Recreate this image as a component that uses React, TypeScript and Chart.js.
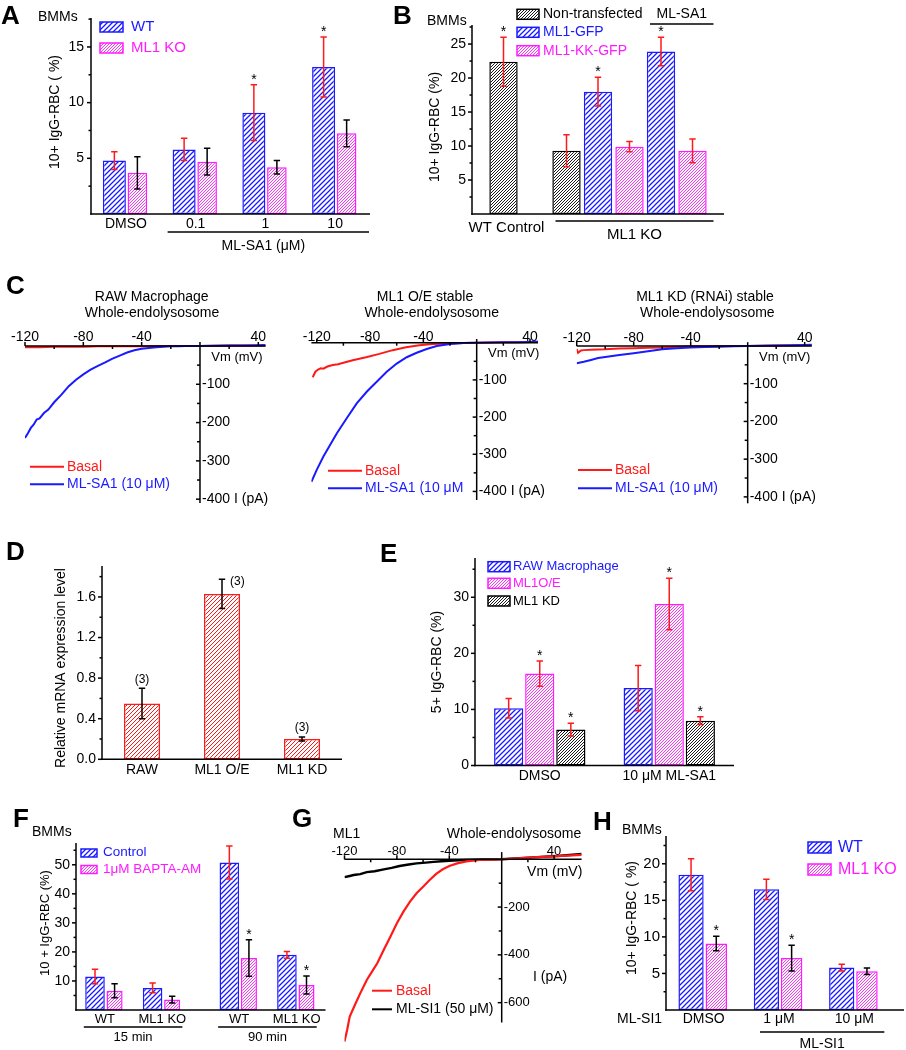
import React, { useEffect, useRef } from 'react';
import { Chart, registerables } from 'chart.js';

Chart.register(...registerables);

const PAGE_W = 906;
const PAGE_H = 1050;
const FONT = '"Liberation Sans", Arial, Helvetica, sans-serif';
const BLUE = '#1a1aff';
const MAGENTA = '#ff1aff';
const RED = '#ff1a1a';
const INK = '#000000';

/* ======================= DATA ======================= */
// Panel A
const aCategories = ['DMSO', '0.1', '1', '10'];
const aWT = [4.8, 5.8, 9.1, 13.2];
const aWTErr = [0.8, 1.0, 2.5, 2.7];
const aKO = [3.7, 4.7, 4.2, 7.25];
const aKOErr = [1.45, 1.2, 0.6, 1.2];
const aWTStar = [false, false, true, true];
const aYTicks = [5, 10, 15];
const aYMinor = [2.5, 7.5, 12.5, 17.5];

// Panel B
const bCategories = ['', 'WT Control', '', 'Non-transfected', 'ML1-GFP', 'ML1-KK-GFP', 'ML1-GFP + ML-SA1', 'ML1-KK-GFP + ML-SA1', ''];
const bSeries = ['', 'Non-transfected', '', 'Non-transfected', 'ML1-GFP', 'ML1-KK-GFP', 'ML1-GFP', 'ML1-KK-GFP', ''];
const bValues = [null, 22.4, null, 9.3, 18.0, 9.9, 23.9, 9.3, null];
const bErr = [0, 3.6, 0, 2.35, 2.1, 0.75, 2.1, 1.75, 0];
const bStar = [false, true, false, false, true, false, true, false, false];
const bYTicks = [5, 10, 15, 20, 25];
const bYMinor = [2.5, 7.5, 12.5, 17.5, 22.5, 27.5];

// Panel C (I-V curves)
const cXTicks = [-120, -80, -40, 40];
const cXMinor = [-100, -60, -20, 20];
const cYTicks = [-100, -200, -300, -400];
const cYMinor = [-50, -150, -250, -350];
const c1BasalV = [-120, -110, -100, -90, -80, -70, -60, -50, -40, -30, -20, -10, 0, 10, 20, 30, 40, 45];
const c1BasalI = [-3, -3, -2, -2, -2, -1, -1, -1, -1, 0, 0, 0, 0, 0.5, 1, 1, 1.5, 1.5];
const c1SA1V = [-120, -118, -116, -114, -112, -110, -107, -104, -100, -95, -90, -85, -80, -75, -70, -65, -60, -55, -50, -45, -40, -35, -30, -25, -20, -15, -10, 0, 10, 20, 30, 40, 45];
const c1SA1I = [-240, -228, -214, -205, -192, -189, -175, -166, -147, -127, -105, -88, -74, -62, -52, -43, -33, -25, -17, -11, -7, -5, -3, -2, -1, -0.5, 0, 0, 0.5, 1, 1.5, 2, 2.5];
const c2BasalV = [-123, -121, -119, -117, -115, -112, -108, -104, -100, -93, -83, -73, -63, -53, -43, -33, -20, -10, 0, 10, 20, 30, 40, 46];
const c2BasalI = [-93, -78, -72, -69, -70, -64, -60, -58, -54, -47, -39, -30, -20, -12, -7, -3.5, -1.8, -0.5, 0, 0.5, 1, 1.5, 2, 2.7];
const c2SA1V = [-124, -120, -115, -110, -105, -97.5, -90, -82.5, -75, -67.5, -60, -52.5, -45, -37.5, -30, -20, -10, 0, 10, 20, 30, 40, 46];
const c2SA1I = [-374, -342, -306, -275, -244, -203, -163, -132, -105, -78, -56, -39, -27, -17, -9, -3.5, -1, 0, 0.5, 1, 1.5, 2, 2.7];
const c3BasalV = [-120, -119, -117, -115, -110, -100, -90, -80, -70, -60, -50, -40, -30, -20, -10, 0, 10, 20, 30, 40, 45];
const c3BasalI = [-8, -18, -12, -11, -10, -9, -7, -6, -5, -4, -2, -1, -0.5, 0, 0, 0, 0.5, 1, 1.5, 2, 2.5];
const c3SA1V = [-120, -115, -110, -105, -100, -90, -80, -70, -60, -50, -40, -30, -20, -10, 0, 10, 20, 30, 40, 45];
const c3SA1I = [-46, -42, -37, -32, -29, -24, -19, -14, -9, -6, -4, -3, -2, -1, 0, 0.5, 1, 2, 2.5, 3];

// Panel D
const dCategories = ['RAW', 'ML1 O/E', 'ML1 KD'];
const dValues = [0.55, 1.63, 0.2];
const dErr = [0.15, 0.145, 0.02];
const dN = ['(3)', '(3)', '(3)'];
const dYTicks = [0, 0.4, 0.8, 1.2, 1.6];
const dYMinor = [0.2, 0.6, 1.0, 1.4, 1.8];

// Panel E
const eCategories = ['DMSO', '10 \u03bcM ML-SA1'];
const eRaw = [10.2, 13.8];
const eRawErr = [1.75, 4.05];
const eOE = [16.4, 28.8];
const eOEErr = [2.25, 4.6];
const eKD = [6.4, 8.0];
const eKDErr = [1.15, 0.7];
const eOEStar = [true, true];
const eKDStar = [true, true];
const eYTicks = [0, 10, 20, 30];
const eYMinor = [5, 15, 25, 35];

// Panel F
const fGroups = ['WT', 'ML1 KO', 'WT', 'ML1 KO'];
const fPositions = [0, 3, 7, 10];
const fControl = [11.5, 7.6, 50.8, 19.0];
const fControlErr = [2.5, 1.7, 5.7, 1.15];
const fBapta = [6.6, 3.6, 17.9, 8.6];
const fBaptaErr = [2.4, 1.15, 6.3, 3.1];
const fBaptaStar = [false, false, true, true];
const fTimes = ['15 min', '90 min'];
const fTimeGroupFirst = [0, 2];
const fTimeGroupLast = [1, 3];
const fYTicks = [10, 20, 30, 40, 50];
const fYMinor = [5, 15, 25, 35, 45, 55];

// Panel G
const gXTicks = [-120, -80, -40, 40];
const gXMinor = [-100, -60, -20, 20];
const gYTicks = [-200, -400, -600];
const gYMinor = [-100, -300, -500];
const gBasalV = [-120, -118, -116, -112, -108, -103, -99, -95, -90, -85, -80, -75, -70, -65, -60, -55, -50, -45, -40, -34, -27, -17, 0, 24, 61];
const gBasalI = [-763, -714, -658, -609, -561, -505, -470, -435, -379, -324, -268, -219, -177, -142, -115, -87, -61, -42, -28, -17, -8.5, -3, 0, 8, 18];
const gSI1V = [-120, -116, -113, -108, -103, -97, -90, -84, -78, -71, -65, -58, -52, -46, -40, -33, -27, -14, 0, 24, 45, 61];
const gSI1I = [-75, -70, -66, -62, -54, -50, -42, -36, -28, -22, -17, -14, -11, -8, -6, -4, -3, -1, 0, 8, 15, 22];

// Panel H
const hCategories = ['DMSO', '1 \u03bcM', '10 \u03bcM'];
const hWT = [18.5, 16.5, 5.8];
const hWTErr = [2.2, 1.4, 0.45];
const hKO = [9.1, 7.1, 5.3];
const hKOErr = [1.0, 1.75, 0.45];
const hKOStar = [true, true, false];
const hYTicks = [5, 10, 15, 20];
const hYMinor = [2.5, 7.5, 12.5, 17.5, 22.5];

/* ======================= HELPERS ======================= */
const HATCH_SPEC: Record<string, [string, number, number]> = {
  blue: [BLUE, 5, 1.3],
  magenta: [MAGENTA, 3, 0.9],
  black: ['#1a1a1a', 3, 1.0],
  red: [RED, 4, 1.0],
};
const EDGE: Record<string, string> = { blue: BLUE, magenta: MAGENTA, black: INK, red: RED };
const SERIES_KIND: Record<string, string> = { 'Non-transfected': 'black', 'ML1-GFP': 'blue', 'ML1-KK-GFP': 'magenta', '': 'black' };
const hatchCache: Record<string, any> = {};
function hatch(kind: string): any {
  if (!hatchCache[kind]) {
    const [color, s, lw] = HATCH_SPEC[kind];
    const cv = document.createElement('canvas');
    cv.width = s;
    cv.height = s;
    const g = cv.getContext('2d') as CanvasRenderingContext2D;
    g.fillStyle = '#ffffff';
    g.fillRect(0, 0, s, s);
    g.strokeStyle = color;
    g.lineWidth = lw;
    g.beginPath();
    g.moveTo(0, s);
    g.lineTo(s, 0);
    g.moveTo(-1, 1);
    g.lineTo(1, -1);
    g.moveTo(s - 1, s + 1);
    g.lineTo(s + 1, s - 1);
    g.stroke();
    hatchCache[kind] = g.createPattern(cv, 'repeat');
  }
  return hatchCache[kind];
}

function txt(ctx: CanvasRenderingContext2D, s: string, x: number, y: number, o: any = {}) {
  ctx.save();
  ctx.font = `${o.bold ? 'bold ' : ''}${o.size ?? 14}px ${FONT}`;
  ctx.fillStyle = o.color ?? INK;
  ctx.textAlign = o.align ?? 'center';
  ctx.textBaseline = o.base ?? 'middle';
  ctx.translate(x, y);
  if (o.rot) ctx.rotate(o.rot);
  ctx.fillText(s, 0, 0);
  ctx.restore();
}

function seg(ctx: CanvasRenderingContext2D, x1: number, y1: number, x2: number, y2: number, color = INK, lw = 1.5) {
  ctx.save();
  ctx.strokeStyle = color;
  ctx.lineWidth = lw;
  ctx.beginPath();
  ctx.moveTo(x1, y1);
  ctx.lineTo(x2, y2);
  ctx.stroke();
  ctx.restore();
}

function letter(ctx: CanvasRenderingContext2D, s: string, x: number, y: number) {
  txt(ctx, s, x, y, { size: 26, bold: true, align: 'left' });
}

function swatch(ctx: CanvasRenderingContext2D, x: number, y: number, w: number, h: number, kind: string) {
  ctx.save();
  ctx.fillStyle = hatch(kind);
  ctx.fillRect(x, y, w, h);
  ctx.strokeStyle = EDGE[kind];
  ctx.lineWidth = 1.5;
  ctx.strokeRect(x, y, w, h);
  ctx.restore();
}

function errorBars(ctx: CanvasRenderingContext2D, c: any, ds: number, values: any[], errs: number[], color: string, cap = 3.2) {
  const meta = c.getDatasetMeta(ds);
  const ys = c.scales.y;
  values.forEach((v, i) => {
    if (v == null || !errs[i]) return;
    const el = meta.data[i];
    const x = el.x;
    const yt = ys.getPixelForValue(v + errs[i]);
    const yb = ys.getPixelForValue(v - errs[i]);
    ctx.save();
    ctx.strokeStyle = color;
    ctx.lineWidth = 1.5;
    ctx.beginPath();
    ctx.moveTo(x, yt);
    ctx.lineTo(x, yb);
    ctx.moveTo(x - cap, yt);
    ctx.lineTo(x + cap, yt);
    ctx.moveTo(x - cap, yb);
    ctx.lineTo(x + cap, yb);
    ctx.stroke();
    ctx.restore();
  });
}

function stars(ctx: CanvasRenderingContext2D, c: any, ds: number, values: any[], errs: number[], flags: boolean[]) {
  const meta = c.getDatasetMeta(ds);
  const ys = c.scales.y;
  flags.forEach((f, i) => {
    if (!f || values[i] == null) return;
    const el = meta.data[i];
    const top = ys.getPixelForValue(values[i] + errs[i]);
    txt(ctx, '*', el.x, top - 1, { size: 14, base: 'alphabetic' });
  });
}

function yAxisLeft(ctx: CanvasRenderingContext2D, c: any, major: number[], minor: number[], o: any = {}) {
  const a = c.chartArea;
  const ys = c.scales.y;
  const size = o.size ?? 14;
  const gap = o.gap ?? 6;
  const fmt = o.fmt ?? ((v: number) => String(v));
  seg(ctx, a.left, a.top, a.left, a.bottom + 0.75);
  major.forEach((v) => {
    const p = ys.getPixelForValue(v);
    seg(ctx, a.left - 4, p, a.left, p);
    txt(ctx, fmt(v), a.left - gap, p, { size, align: 'right' });
  });
  minor.forEach((v) => {
    const p = ys.getPixelForValue(v);
    seg(ctx, a.left - 2.5, p, a.left, p);
  });
}

function xAxisLine(ctx: CanvasRenderingContext2D, c: any, extra = 0) {
  const a = c.chartArea;
  seg(ctx, a.left - 0.75, a.bottom, a.right + extra, a.bottom);
}

function ivAxes(ctx: CanvasRenderingContext2D, c: any, o: any) {
  const a = c.chartArea;
  const xs = c.scales.x;
  const ys = c.scales.y;
  const y0 = ys.getPixelForValue(0);
  const x0 = xs.getPixelForValue(0);
  seg(ctx, a.left, y0, a.right, y0);
  const yEnd = o.yAxisMin != null ? ys.getPixelForValue(o.yAxisMin) : a.bottom;
  seg(ctx, x0, a.top, x0, yEnd);
  o.xMajor.forEach((v: number) => {
    const p = xs.getPixelForValue(v);
    seg(ctx, p, y0 - 4, p, y0);
    txt(ctx, String(v), p, y0 - o.xLabelDy, { size: o.size });
  });
  o.xMinor.forEach((v: number) => {
    const p = xs.getPixelForValue(v);
    seg(ctx, p, y0, p, y0 + 3);
  });
  o.yMajor.forEach((v: number) => {
    const p = ys.getPixelForValue(v);
    seg(ctx, x0 - 4, p, x0, p);
    txt(ctx, String(v), x0 + 2, p, { size: o.size, align: 'left' });
  });
  o.yMinor.forEach((v: number) => {
    const p = ys.getPixelForValue(v);
    seg(ctx, x0 - 3, p, x0, p);
  });
  return { x0, y0 };
}

type Area = { l: number; t: number; r: number; b: number };

function baseOptions(area: Area, scales: any) {
  return {
    responsive: false,
    maintainAspectRatio: false,
    animation: false,
    devicePixelRatio: 1,
    events: [],
    layout: { padding: { left: area.l, top: area.t, right: PAGE_W - area.r, bottom: PAGE_H - area.b } },
    plugins: { legend: { display: false }, tooltip: { enabled: false }, title: { display: false } },
    scales,
  };
}

function decor(draw: (c: any, ctx: CanvasRenderingContext2D) => void) {
  return {
    id: 'decor',
    afterDraw(c: any) {
      const ctx = c.ctx;
      ctx.save();
      draw(c, ctx);
      ctx.restore();
    },
  };
}

function barSet(label: string, data: any[], kind: string, barPct: number, catPct: number) {
  return {
    label,
    data,
    backgroundColor: hatch(kind),
    borderColor: EDGE[kind],
    borderWidth: 1.5,
    borderSkipped: false,
    barPercentage: barPct,
    categoryPercentage: catPct,
  };
}

function trace(label: string, v: number[], i: number[], color: string, width: number) {
  return {
    label,
    data: v.map((x, k) => ({ x, y: i[k] })),
    borderColor: color,
    backgroundColor: color,
    borderWidth: width,
    pointRadius: 0,
    tension: 0,
    fill: false,
  };
}

/* ======================= PANELS ======================= */
function configA() {
  return {
    type: 'bar',
    data: {
      labels: aCategories,
      datasets: [barSet('WT', aWT, 'blue', 1.0, 0.66), barSet('ML1 KO', aKO, 'magenta', 0.85, 0.66)],
    },
    options: baseOptions({ l: 91, t: 18, r: 370, b: 214 }, {
      x: { type: 'category', display: false },
      y: { type: 'linear', display: false, min: 0, max: 17.6 },
    }),
    plugins: [decor((c, ctx) => {
      const a = c.chartArea;
      const xs = c.scales.x;
      letter(ctx, 'A', 1, 17);
      txt(ctx, 'BMMs', 38, 17, { align: 'left', size: 14 });
      txt(ctx, '10+ IgG-RBC ( %)', 55, 112, { rot: -Math.PI / 2, size: 14 });
      errorBars(ctx, c, 0, aWT, aWTErr, RED);
      errorBars(ctx, c, 1, aKO, aKOErr, INK);
      stars(ctx, c, 0, aWT, aWTErr, aWTStar);
      yAxisLeft(ctx, c, aYTicks, aYMinor, { size: 14, gap: 7 });
      xAxisLine(ctx, c);
      aCategories.forEach((l, i) => txt(ctx, l, xs.getPixelForValue(i), a.bottom + 10, { size: 14 }));
      const g0 = xs.getPixelForValue(1) - 28;
      seg(ctx, g0, a.bottom + 18, a.right - 1, a.bottom + 18);
      txt(ctx, 'ML-SA1 (\u03bcM)', xs.getPixelForValue(2) - 2, a.bottom + 32, { size: 14 });
      swatch(ctx, 100, 22, 23, 10, 'blue');
      txt(ctx, 'WT', 131, 27, { align: 'left', color: BLUE, size: 15 });
      swatch(ctx, 100, 43, 23, 10, 'magenta');
      txt(ctx, 'ML1 KO', 131, 48, { align: 'left', color: MAGENTA, size: 15 });
    })],
  };
}

function configB() {
  const kinds = bSeries.map((s) => SERIES_KIND[s]);
  return {
    type: 'bar',
    data: {
      labels: bCategories,
      datasets: [{
        label: 'B',
        data: bValues,
        backgroundColor: kinds.map((k) => hatch(k)),
        borderColor: kinds.map((k) => EDGE[k]),
        borderWidth: 1.5,
        borderSkipped: false,
        barPercentage: 0.9,
        categoryPercentage: 1,
      }],
    },
    options: baseOptions({ l: 472, t: 25, r: 724, b: 214 }, {
      x: { type: 'category', display: false, offset: false },
      y: { type: 'linear', display: false, min: 0, max: 27.8 },
    }),
    plugins: [decor((c, ctx) => {
      const a = c.chartArea;
      const xs = c.scales.x;
      letter(ctx, 'B', 393, 17);
      txt(ctx, 'BMMs', 427, 21, { align: 'left', size: 14 });
      txt(ctx, '10+ IgG-RBC (%)', 435, 127, { rot: -Math.PI / 2, size: 14 });
      errorBars(ctx, c, 0, bValues, bErr, RED);
      stars(ctx, c, 0, bValues, bErr, bStar);
      yAxisLeft(ctx, c, bYTicks, bYMinor, { size: 14, gap: 6 });
      xAxisLine(ctx, c);
      txt(ctx, 'WT Control', xs.getPixelForValue(1) + 3, a.bottom + 14, { size: 15 });
      const k0 = xs.getPixelForValue(3) - 11;
      const k1 = xs.getPixelForValue(7) + 21;
      seg(ctx, k0, a.bottom + 7, k1, a.bottom + 7);
      txt(ctx, 'ML1 KO', (k0 + k1) / 2, a.bottom + 21, { size: 15 });
      const s0 = xs.getPixelForValue(6) - 11;
      seg(ctx, s0, 24, k1, 24);
      txt(ctx, 'ML-SA1', (s0 + k1) / 2, 14, { size: 14 });
      const legend: [string, string, string][] = [
        ['Non-transfected', 'black', INK],
        ['ML1-GFP', 'blue', BLUE],
        ['ML1-KK-GFP', 'magenta', MAGENTA],
      ];
      const rows = [14.3, 32.3, 50.7];
      legend.forEach(([label, kind, color], i) => {
        swatch(ctx, 517, rows[i] - 5, 22, 10, kind);
        txt(ctx, label, 543, rows[i], { align: 'left', color, size: 14 });
      });
    })],
  };
}

function ivConfig(spec: any) {
  return {
    type: 'line',
    data: { datasets: spec.traces },
    options: baseOptions(spec.area, {
      x: { type: 'linear', display: false, min: spec.xMin, max: spec.xMax },
      y: { type: 'linear', display: false, min: spec.yMin, max: spec.yMax },
    }),
    plugins: [decor(spec.draw)],
  };
}

function drawC(c: any, ctx: CanvasRenderingContext2D, o: any) {
  const ys = c.scales.y;
  txt(ctx, o.title[0], o.titleX[0], 296.7, { size: 14 });
  txt(ctx, o.title[1], o.titleX[1], 313.3, { size: 14 });
  const { x0, y0 } = ivAxes(ctx, c, { xMajor: cXTicks, xMinor: cXMinor, yMajor: cYTicks, yMinor: cYMinor, size: 14, xLabelDy: o.xLabelDy });
  txt(ctx, 'Vm (mV)', x0 + 37, y0 + 11, { size: 13 });
  txt(ctx, 'I (pA)', x0 + 34, ys.getPixelForValue(-400), { size: 14, align: 'left' });
  seg(ctx, o.legX, o.legY[0], o.legX + 34, o.legY[0], RED, 2);
  txt(ctx, 'Basal', o.legX + 37, o.legY[0], { size: 14, align: 'left', color: RED });
  seg(ctx, o.legX, o.legY[1], o.legX + 34, o.legY[1], BLUE, 2);
  txt(ctx, o.sa1Label, o.legX + 37, o.legY[1], { size: 14, align: 'left', color: BLUE });
}

function configC1() {
  return ivConfig({
    area: { l: 25, t: 342, r: 265.6, b: 503 },
    xMin: -120, xMax: 45, yMin: -410, yMax: 10.4,
    traces: [trace('ML-SA1 (10 \u03bcM)', c1SA1V, c1SA1I, BLUE, 2), trace('Basal', c1BasalV, c1BasalI, RED, 2)],
    draw: (c: any, ctx: CanvasRenderingContext2D) => {
      letter(ctx, 'C', 6, 287);
      drawC(c, ctx, { title: ['RAW Macrophage', 'Whole-endolysosome'], titleX: [151.7, 152], xLabelDy: 9, legX: 30, legY: [466.7, 484.3], sa1Label: 'ML-SA1 (10 \u03bcM)' });
    },
  });
}

function configC2() {
  return ivConfig({
    area: { l: 311.4, t: 339, r: 538, b: 500 },
    xMin: -124, xMax: 46, yMin: -423, yMax: 10,
    traces: [trace('ML-SA1 (10 \u03bcM)', c2SA1V, c2SA1I, BLUE, 2), trace('Basal', c2BasalV, c2BasalI, RED, 2)],
    draw: (c: any, ctx: CanvasRenderingContext2D) => {
      drawC(c, ctx, { title: ['ML1 O/E stable', 'Whole-endolysosome'], titleX: [425, 431.7], xLabelDy: 6, legX: 328, legY: [470.7, 488.3], sa1Label: 'ML-SA1 (10 \u03bcM' });
    },
  });
}

function configC3() {
  return ivConfig({
    area: { l: 576.7, t: 342.2, r: 811.8, b: 503.3 },
    xMin: -120, xMax: 45, yMin: -417, yMax: 10,
    traces: [trace('ML-SA1 (10 \u03bcM)', c3SA1V, c3SA1I, BLUE, 2), trace('Basal', c3BasalV, c3BasalI, RED, 2)],
    draw: (c: any, ctx: CanvasRenderingContext2D) => {
      drawC(c, ctx, { title: ['ML1 KD (RNAi) stable', 'Whole-endolysosome'], titleX: [705, 707.3], xLabelDy: 8, legX: 578, legY: [470, 488.3], sa1Label: 'ML-SA1 (10 \u03bcM)' });
    },
  });
}

function configD() {
  return {
    type: 'bar',
    data: { labels: dCategories, datasets: [barSet('mRNA', dValues, 'red', 0.9, 0.5)] },
    options: baseOptions({ l: 102, t: 566, r: 342, b: 759.3 }, {
      x: { type: 'category', display: false },
      y: { type: 'linear', display: false, min: 0, max: 1.905 },
    }),
    plugins: [decor((c, ctx) => {
      const a = c.chartArea;
      const xs = c.scales.x;
      const ys = c.scales.y;
      letter(ctx, 'D', 6, 553);
      txt(ctx, 'Relative mRNA expression level', 61, 668, { rot: -Math.PI / 2, size: 14 });
      errorBars(ctx, c, 0, dValues, dErr, INK);
      const meta = c.getDatasetMeta(0);
      dN.forEach((n, i) => {
        const x = meta.data[i].x;
        const top = ys.getPixelForValue(dValues[i] + dErr[i]);
        if (i === 1) txt(ctx, n, x + 8, top + 2, { size: 12, align: 'left' });
        else txt(ctx, n, x, top - 9, { size: 12 });
      });
      yAxisLeft(ctx, c, dYTicks, dYMinor, { size: 14, gap: 6, fmt: (v: number) => v.toFixed(1) });
      xAxisLine(ctx, c);
      dCategories.forEach((l, i) => txt(ctx, l, xs.getPixelForValue(i), a.bottom + 10.5, { size: 14 }));
    })],
  };
}

function configE() {
  return {
    type: 'bar',
    data: {
      labels: eCategories,
      datasets: [
        barSet('RAW Macrophage', eRaw, 'blue', 0.94, 0.72),
        barSet('ML1O/E', eOE, 'magenta', 0.94, 0.72),
        barSet('ML1 KD', eKD, 'black', 0.94, 0.72),
      ],
    },
    options: baseOptions({ l: 475, t: 558, r: 734, b: 765.5 }, {
      x: { type: 'category', display: false },
      y: { type: 'linear', display: false, min: 0, max: 37 },
    }),
    plugins: [decor((c, ctx) => {
      const a = c.chartArea;
      const xs = c.scales.x;
      letter(ctx, 'E', 380, 555);
      txt(ctx, '5+ IgG-RBC (%)', 437, 662, { rot: -Math.PI / 2, size: 14 });
      errorBars(ctx, c, 0, eRaw, eRawErr, RED);
      errorBars(ctx, c, 1, eOE, eOEErr, RED);
      errorBars(ctx, c, 2, eKD, eKDErr, RED);
      stars(ctx, c, 1, eOE, eOEErr, eOEStar);
      stars(ctx, c, 2, eKD, eKDErr, eKDStar);
      yAxisLeft(ctx, c, eYTicks, eYMinor, { size: 14, gap: 6 });
      xAxisLine(ctx, c);
      eCategories.forEach((l, i) => txt(ctx, l, xs.getPixelForValue(i), a.bottom + 11, { size: 14 }));
      const legend: [string, string, string][] = [
        ['RAW Macrophage', 'blue', BLUE],
        ['ML1O/E', 'magenta', MAGENTA],
        ['ML1 KD', 'black', INK],
      ];
      const rows = [566.7, 583.3, 601];
      legend.forEach(([label, kind, color], i) => {
        swatch(ctx, 488, rows[i] - 5, 22, 10, kind);
        txt(ctx, label, 513, rows[i], { align: 'left', color, size: 13 });
      });
    })],
  };
}

function configF() {
  return {
    type: 'bar',
    data: {
      datasets: [
        barSet('Control', fControl.map((v, i) => ({ x: fPositions[i], y: v })), 'blue', 1.0, 0.68),
        barSet('1\u03bcM BAPTA-AM', fBapta.map((v, i) => ({ x: fPositions[i], y: v })), 'magenta', 0.82, 0.68),
      ],
    },
    options: baseOptions({ l: 76, t: 843, r: 325.5, b: 1010 }, {
      x: {
        type: 'linear', display: false, min: -1.5, max: 11.5, offset: false,
        afterBuildTicks: (s: any) => { s.ticks = fPositions.map((v) => ({ value: v })); },
      },
      y: { type: 'linear', display: false, min: 0, max: 57.5 },
    }),
    plugins: [decor((c, ctx) => {
      const a = c.chartArea;
      const xs = c.scales.x;
      letter(ctx, 'F', 13, 820);
      txt(ctx, 'BMMs', 32, 832, { align: 'left', size: 14 });
      txt(ctx, '10 + IgG-RBC (%)', 45, 923, { rot: -Math.PI / 2, size: 13 });
      errorBars(ctx, c, 0, fControl, fControlErr, RED);
      errorBars(ctx, c, 1, fBapta, fBaptaErr, INK);
      stars(ctx, c, 1, fBapta, fBaptaErr, fBaptaStar);
      yAxisLeft(ctx, c, fYTicks, fYMinor, { size: 14, gap: 6 });
      xAxisLine(ctx, c);
      fGroups.forEach((l, i) => txt(ctx, l, xs.getPixelForValue(fPositions[i]), a.bottom + 9, { size: 13 }));
      fTimes.forEach((t, k) => {
        const g0 = xs.getPixelForValue(fPositions[fTimeGroupFirst[k]]) - 21;
        const g1 = xs.getPixelForValue(fPositions[fTimeGroupLast[k]]) + 20;
        seg(ctx, g0, a.bottom + 17, g1, a.bottom + 17);
        txt(ctx, t, (g0 + g1) / 2, a.bottom + 27.5, { size: 13 });
      });
      swatch(ctx, 81, 849, 16, 8, 'blue');
      txt(ctx, 'Control', 103, 852.7, { align: 'left', color: BLUE, size: 13.5 });
      swatch(ctx, 81, 865.5, 16, 8, 'magenta');
      txt(ctx, '1\u03bcM BAPTA-AM', 103, 869.3, { align: 'left', color: MAGENTA, size: 13.5 });
    })],
  };
}

function configG() {
  return ivConfig({
    area: { l: 344.5, t: 852.1, r: 581.6, b: 1043.3 },
    xMin: -120, xMax: 61, yMin: -770, yMax: 30,
    traces: [trace('Basal', gBasalV, gBasalI, RED, 2.2), trace('ML-SI1 (50 \u03bcM)', gSI1V, gSI1I, INK, 2.4)],
    draw: (c: any, ctx: CanvasRenderingContext2D) => {
      letter(ctx, 'G', 292, 820);
      txt(ctx, 'ML1', 333, 834, { align: 'left', size: 14 });
      txt(ctx, 'Whole-endolysosome', 514, 834, { size: 14 });
      const { x0, y0 } = ivAxes(ctx, c, { xMajor: gXTicks, xMinor: gXMinor, yMajor: gYTicks, yMinor: gYMinor, yAxisMin: -683, size: 13, xLabelDy: 8 });
      txt(ctx, 'Vm (mV)', x0 + 53, y0 + 12.4, { size: 14 });
      txt(ctx, 'I (pA)', 533, 977, { size: 14, align: 'left' });
      seg(ctx, 372, 990.7, 392, 990.7, RED, 2);
      txt(ctx, 'Basal', 396, 990.7, { size: 14, align: 'left', color: RED });
      seg(ctx, 372, 1009.3, 392, 1009.3, INK, 2);
      txt(ctx, 'ML-SI1 (50 \u03bcM)', 396, 1009.3, { size: 14, align: 'left' });
    },
  });
}

function configH() {
  return {
    type: 'bar',
    data: {
      labels: hCategories,
      datasets: [barSet('WT', hWT, 'blue', 1.0, 0.67), barSet('ML1 KO', hKO, 'magenta', 0.85, 0.67)],
    },
    options: baseOptions({ l: 666, t: 836, r: 892, b: 1010 }, {
      x: { type: 'category', display: false },
      y: { type: 'linear', display: false, min: 0, max: 23.8 },
    }),
    plugins: [decor((c, ctx) => {
      const a = c.chartArea;
      const xs = c.scales.x;
      letter(ctx, 'H', 593, 823);
      txt(ctx, 'BMMs', 622, 830, { align: 'left', size: 14 });
      txt(ctx, '10+ IgG-RBC ( %)', 632, 918, { rot: -Math.PI / 2, size: 14 });
      errorBars(ctx, c, 0, hWT, hWTErr, RED);
      errorBars(ctx, c, 1, hKO, hKOErr, INK);
      stars(ctx, c, 1, hKO, hKOErr, hKOStar);
      yAxisLeft(ctx, c, hYTicks, hYMinor, { size: 15, gap: 6 });
      xAxisLine(ctx, c, 12);
      txt(ctx, 'ML-SI1', 617, a.bottom + 9, { align: 'left', size: 14 });
      hCategories.forEach((l, i) => txt(ctx, l, xs.getPixelForValue(i), a.bottom + 9, { size: 14 }));
      const g0 = xs.getPixelForValue(1) - 19;
      const g1 = xs.getPixelForValue(2) + 30;
      seg(ctx, g0, a.bottom + 22, g1, a.bottom + 22);
      txt(ctx, 'ML-SI1', (g0 + g1) / 2, a.bottom + 34.5, { size: 14 });
      swatch(ctx, 808, 842, 23, 11, 'blue');
      txt(ctx, 'WT', 838, 847.3, { align: 'left', color: BLUE, size: 16 });
      swatch(ctx, 808, 864, 23, 11, 'magenta');
      txt(ctx, 'ML1 KO', 838, 869.3, { align: 'left', color: MAGENTA, size: 16 });
    })],
  };
}

const PANELS: Array<() => any> = [configA, configB, configC1, configC2, configC3, configD, configE, configF, configG, configH];

function PanelCanvas({ make }: { make: () => any }) {
  const ref = useRef<HTMLCanvasElement | null>(null);
  useEffect(() => {
    if (!ref.current) return;
    const chart = new Chart(ref.current, make());
    return () => chart.destroy();
  }, [make]);
  return (
    <canvas
      ref={ref}
      width={PAGE_W}
      height={PAGE_H}
      style={{ position: 'absolute', left: 0, top: 0, width: PAGE_W, height: PAGE_H }}
    />
  );
}

export default function App() {
  return (
    <div style={{ position: 'absolute', left: 0, top: 0, width: PAGE_W, height: PAGE_H, background: '#ffffff', overflow: 'hidden' }}>
      {PANELS.map((make, i) => (
        <PanelCanvas key={i} make={make} />
      ))}
    </div>
  );
}
